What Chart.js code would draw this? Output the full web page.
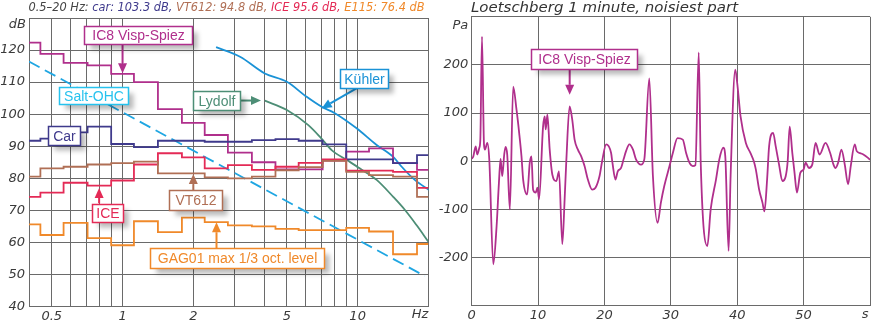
<!DOCTYPE html>
<html>
<head>
<meta charset="utf-8">
<script src="https://cdn.jsdelivr.net/npm/chart.js@4.4.1/dist/chart.umd.min.js"></script>
<style>
  html, body { margin: 0; padding: 0; background: #fff; }
  #wrap { position: relative; width: 872px; height: 321px; overflow: hidden; }
  #left { position: absolute; left: 0; top: 0; }
  #right { position: absolute; left: 428px; top: 0; }
</style>
</head>
<body>
<div id="wrap">
  <canvas id="left" width="440" height="321"></canvas>
  <canvas id="right" width="444" height="321"></canvas>
</div>
<script>
// 1/3 octave band centres (Hz) and levels (dB)
const bandHz   = [0.4, 0.5, 0.63, 0.8, 1, 1.25, 1.6, 2, 2.5, 3.15, 4, 5, 6.3, 8, 10, 12.5, 16, 20];
const ic8Db    = [122.3, 118.8, 116.0, 115.2, 112.6, 110.0, 101.6, 97.3, 93.5, 88.0, 85.0, 82.8, 82.8, 85.5, 88.3, 89.3, 84.7, 82.6];
const carDb    = [91.7, 92.4, 94.3, 96.1, 90.7, 89.7, 91.7, 91.7, 91.4, 91.4, 91.9, 92.2, 91.7, 90.6, 85.9, 85.9, 84.7, 87.2];
const vt612Db  = [80.5, 83.1, 83.6, 84.3, 84.7, 85.2, 81.5, 81.5, 80.3, 80.0, 80.5, 82.5, 83.5, 85.4, 82.0, 81.0, 80.5, 74.2];
const iceDb    = [74.2, 75.5, 78.6, 77.7, 79.3, 84.3, 87.8, 86.5, 83.1, 84.1, 82.6, 83.6, 84.8, 85.9, 82.4, 82.4, 82.0, 77.0];
const gag01Db  = [65.6, 62.3, 66.1, 61.3, 59.1, 66.6, 63.2, 67.7, 66.3, 65.3, 65.0, 64.2, 63.8, 63.8, 64.5, 63.4, 56.3, 59.5];

const saltHz   = [0.4, 19.3];
const saltDb   = [116.4, 49.5];
const kuehlerHz = [2.5, 3.16, 4.03, 5.0, 6.07, 7.03, 8.0, 9.9, 12.05, 14.17, 15.4, 17.5, 20.2];
const kuehlerDb = [120.9, 117.9, 112.7, 110.1, 105.4, 102.3, 100.3, 95.6, 90.4, 86.7, 83.6, 79.5, 76.3];
const lydolfHz = [4.03, 5.0, 6.17, 6.9, 7.75, 9.0, 10.2, 12.05, 14.17, 15.9, 17.8, 20.0];
const lydolfDb = [104.2, 101.3, 96.6, 93.0, 88.8, 85.7, 83.1, 79.5, 74.2, 70.1, 65.4, 60.2];

const freqGrid = [0.4, 0.5, 0.6, 0.7, 0.8, 0.9, 1, 2, 3, 4, 5, 6, 7, 8, 9, 10, 20];
const freqLabels = { 0.5: '0.5', 1: '1', 2: '2', 5: '5', 10: '10' };

// Loetschberg pressure trace (s, Pa)
const timeS = [0, 0.24, 0.6, 0.84, 1.15, 1.3, 1.55, 1.85, 2.0, 2.35, 2.65, 3.25, 3.75, 4.1, 4.35, 4.6, 4.9, 5.1, 5.35,
  5.75, 6.25, 6.75, 7.15, 7.5, 7.75, 8.35, 8.75, 9.0, 9.25, 9.65, 9.9, 10.15, 10.75, 11.0, 11.15, 11.4, 11.75,
  12.15, 12.75, 13.15, 13.65, 14.0, 14.25, 14.75, 15.15, 15.5, 16.0, 16.5, 17.0, 17.5, 18.15, 18.65, 19.25, 19.65,
  20.25, 21.0, 21.2, 21.65, 22.0, 22.5, 22.9, 23.25, 23.75, 24.3, 24.75, 25.5, 26.0, 26.75, 27.3, 28.0, 28.5, 29.0,
  29.8, 30.3, 31.0, 31.8, 32.3, 32.8, 33.3, 33.7, 34.2, 34.5, 35.5, 36.0, 36.8, 37.3, 37.9, 38.2, 38.7, 39.0, 39.7,
  40.0, 40.5, 41.3, 42.0, 42.5, 42.8, 43.3, 43.8, 44.1, 44.5, 44.8, 45.4, 45.8, 46.3, 46.8, 47.3, 47.6, 47.9, 48.3,
  48.6, 49.0, 49.5, 50.0, 50.3, 50.8, 51.3, 51.8, 52.4, 53.3, 54.0, 54.5, 54.8, 55.2, 55.7, 56.2, 56.7, 57.1, 57.7,
  58.0, 58.5, 59.0, 59.7, 60];
const pressurePa = [5, 10, 31, 14, 28, 45, 259, 35, 24, 38, 3, -214, -135, -45, 5, -31, 14, 30, 14,
  -100, 155, 107, 59, 10, -38, -69, -3, 10, -59, -65, -55, -79, 72, 93, 66, 97, 24,
  -28, -41, -21, -172, -79, 0, 114, 86, 45, 24, 10, -10, -38, -59, -55, -31, 0,
  35, 17, -3, -38, -21, -14, 5, 21, 35, 24, 4, -7, 4, 172, -31, -128, -86, -52,
  -10, 17, 48, 45, 17, -3, -10, -8, 226, -3, -176, -100, -38, 4, 28, 10, -186, -31, 190,
  162, 93, 38, 17, 0, -17, -59, -86, -104, -38, 31, 59, 31, -7, -41, -31, 0, 72, 17,
  -20, -65, -24, -17, -3, -14, -7, 38, 14, 38, 17, -7, -14, -3, 24, -7, -48, -10, 35,
  21, 17, 14, 7, 3];

const C = {
  ic8: '#b02f8c', salt: '#1fa6e2', saltLabel: '#26c2ee', car: '#3f3a8c', vt612: '#b06f55',
  ice: '#e42a56', gag: '#f0892a', kuehler: '#1a92d6', lydolf: '#4d8e76',
  grid: '#6a6a6a', text: '#3a3a3a'
};
const tickFont = { family: 'DejaVu Sans', style: 'italic', size: 13 };

const leftNotes = [
  { text: 'IC8 Visp-Spiez', color: C.ic8, at: [1.162, 124.7], w: 108, h: 18, arrow: [[1.0, 121.9], [1.0, 112.8]] },
  { text: 'Salt-OHC', color: C.saltLabel, at: [0.753, 105.8], w: 69, h: 17 },
  { text: 'Car', color: C.car, at: [0.565, 93.3], w: 32, h: 19 },
  { text: 'Lydolf', color: C.lydolf, at: [2.51, 104.25], w: 47, h: 19, arrow: [[3.16, 104.25], [3.88, 104.25]] },
  { text: 'Kühler', color: C.kuehler, at: [10.69, 111.0], w: 48, h: 19, arrow: [[9.93, 108.1], [7.03, 101.8]] },
  { text: 'ICE', color: C.ice, at: [0.866, 69.3], w: 31, h: 18, arrow: [[0.795, 72.2], [0.795, 77.0]] },
  { text: 'VT612', color: C.vt612, at: [2.04, 73.2], w: 53, h: 20, arrow: [[2.0, 76.3], [2.0, 81.3]] },
  { text: 'GAG01 max 1/3 oct. level', color: C.gag, at: [3.065, 55.0], w: 174, h: 20, arrow: [[2.51, 58.2], [2.51, 66.3]] }
];
const rightNotes = [
  { text: 'IC8 Visp-Spiez', color: C.ic8, at: [16.94, 212], w: 106, h: 20, arrow: [[14.76, 191], [14.76, 138]] }
];

function pairs(xs, ys) {
  return xs.map((x, i) => ({ x: x, y: ys[i] }));
}

function drawArrow(ctx, x1, y1, x2, y2, color) {
  const ang = Math.atan2(y2 - y1, x2 - x1);
  const len = 10, half = 4.5;
  const bx = x2 - Math.cos(ang) * len, by = y2 - Math.sin(ang) * len;
  ctx.save();
  ctx.strokeStyle = color;
  ctx.fillStyle = color;
  ctx.lineWidth = 2;
  ctx.beginPath();
  ctx.moveTo(x1, y1);
  ctx.lineTo(bx, by);
  ctx.stroke();
  ctx.beginPath();
  ctx.moveTo(x2, y2);
  ctx.lineTo(bx + Math.sin(ang) * half, by - Math.cos(ang) * half);
  ctx.lineTo(bx - Math.sin(ang) * half, by + Math.cos(ang) * half);
  ctx.closePath();
  ctx.fill();
  ctx.restore();
}

function drawBox(ctx, n, cx, cy) {
  const x = Math.round(cx - n.w / 2) + 0.5, y = Math.round(cy - n.h / 2) + 0.5;
  ctx.save();
  ctx.shadowColor = 'rgba(0,0,0,0.28)';
  ctx.shadowBlur = 5;
  ctx.shadowOffsetX = 5;
  ctx.shadowOffsetY = 5;
  ctx.fillStyle = '#fff';
  ctx.fillRect(x, y, n.w, n.h);
  ctx.restore();
  ctx.save();
  ctx.strokeStyle = n.color;
  ctx.lineWidth = 1.5;
  ctx.strokeRect(x, y, n.w, n.h);
  ctx.fillStyle = n.color;
  ctx.font = '14px "Liberation Sans", Arial, sans-serif';
  ctx.textAlign = 'center';
  ctx.textBaseline = 'middle';
  ctx.fillText(n.text, x + n.w / 2, y + n.h / 2 + 1);
  ctx.restore();
}

function notesPlugin(notes, extra) {
  return {
    id: 'notes',
    afterDatasetsDraw(chart) {
      const ctx = chart.ctx, xs = chart.scales.x, ys = chart.scales.y;
      notes.forEach(n => {
        if (n.arrow) {
          drawArrow(ctx,
            xs.getPixelForValue(n.arrow[0][0]), ys.getPixelForValue(n.arrow[0][1]),
            xs.getPixelForValue(n.arrow[1][0]), ys.getPixelForValue(n.arrow[1][1]), n.color);
        }
      });
      notes.forEach(n => {
        drawBox(ctx, n, xs.getPixelForValue(n.at[0]), ys.getPixelForValue(n.at[1]));
      });
    },
    afterDraw(chart) {
      if (extra) extra(chart);
    }
  };
}

function fitText(ctx, segments, x, y, width, font) {
  ctx.save();
  ctx.font = font;
  const total = segments.reduce((s, seg) => s + ctx.measureText(seg[0]).width, 0);
  ctx.translate(x, y);
  ctx.scale(width / total, 1);
  ctx.textBaseline = 'middle';
  ctx.textAlign = 'left';
  let px = 0;
  segments.forEach(seg => {
    ctx.fillStyle = seg[1];
    ctx.fillText(seg[0], px, 0);
    px += ctx.measureText(seg[0]).width;
  });
  ctx.restore();
}

function axisWord(ctx, text, x, y) {
  ctx.save();
  ctx.font = 'italic 13px "DejaVu Sans"';
  ctx.fillStyle = C.text;
  ctx.textAlign = 'right';
  ctx.textBaseline = 'middle';
  ctx.fillText(text, x, y);
  ctx.restore();
}

function stepSet(values, color) {
  return { data: pairs(bandHz, values), borderColor: color, borderWidth: 1.8, stepped: 'middle', pointRadius: 0 };
}

// ---- left: 1/3 octave spectra ----
new Chart(document.getElementById('left'), {
  type: 'line',
  data: {
    datasets: [
      stepSet(gag01Db, C.gag),
      stepSet(vt612Db, C.vt612),
      stepSet(iceDb, C.ice),
      stepSet(carDb, C.car),
      stepSet(ic8Db, C.ic8),
      { data: pairs(saltHz, saltDb), borderColor: C.salt, borderWidth: 1.8, borderDash: [12, 6], pointRadius: 0 },
      { data: pairs(lydolfHz, lydolfDb), borderColor: C.lydolf, borderWidth: 1.8, pointRadius: 0, cubicInterpolationMode: 'monotone' },
      { data: pairs(kuehlerHz, kuehlerDb), borderColor: C.kuehler, borderWidth: 1.8, pointRadius: 0, cubicInterpolationMode: 'monotone' }
    ]
  },
  options: {
    responsive: false,
    animation: false,
    events: [],
    layout: { autoPadding: false, padding: { left: 0, right: 11.6, top: 18, bottom: 0 } },
    plugins: { legend: { display: false }, tooltip: { enabled: false } },
    scales: {
      x: {
        type: 'logarithmic', min: 0.4, max: 20,
        afterBuildTicks: s => { s.ticks = freqGrid.map(v => ({ value: v })); },
        afterFit: s => { s.height = 14.5; },
        ticks: { autoSkip: false, maxRotation: 0, padding: 2, font: tickFont, color: C.text,
                 callback: v => freqLabels[v] || '' },
        grid: { color: C.grid, lineWidth: 1, drawTicks: false },
        border: { color: C.grid }
      },
      y: {
        min: 40, max: 130,
        afterFit: s => { s.width = 29; },
        ticks: { stepSize: 10, padding: 4, font: tickFont, color: C.text,
                 callback: v => (v === 130 ? '' : v) },
        grid: { color: C.grid, lineWidth: 1, drawTicks: false },
        border: { color: C.grid }
      }
    }
  },
  plugins: [notesPlugin(leftNotes, chart => {
    const ctx = chart.ctx, a = chart.chartArea;
    fitText(ctx, [
      ['0.5–20 Hz: ', '#444'],
      ['car: 103.3 dB, ', C.car],
      ['VT612: 94.8 dB, ', C.vt612],
      ['ICE 95.6 dB, ', C.ice],
      ['E115: 76.4 dB', C.gag]
    ], 28.5, 8, 396, 'italic 13px "DejaVu Sans"');
    axisWord(ctx, 'dB', a.left - 3, 25);
    axisWord(ctx, 'Hz', a.right, 315);
  })]
});

// ---- right: pressure trace ----
new Chart(document.getElementById('right'), {
  type: 'line',
  data: {
    datasets: [
      { data: pairs(timeS, pressurePa), borderColor: C.ic8, borderWidth: 1.8, pointRadius: 0, cubicInterpolationMode: 'monotone' }
    ]
  },
  options: {
    responsive: false,
    animation: false,
    events: [],
    layout: { autoPadding: false, padding: { left: 0, right: 0.7, top: 16.8, bottom: 0 } },
    plugins: { legend: { display: false }, tooltip: { enabled: false } },
    scales: {
      x: {
        type: 'linear', min: 0, max: 60,
        afterFit: s => { s.height = 15.3; },
        ticks: { stepSize: 10, autoSkip: false, maxRotation: 0, padding: 2, font: tickFont, color: C.text,
                 callback: v => (v === 60 ? '' : v) },
        grid: { color: C.grid, lineWidth: 1, drawTicks: false },
        border: { color: C.grid }
      },
      y: {
        min: -300, max: 300,
        afterFit: s => { s.width = 43.7; },
        ticks: { stepSize: 100, padding: 3.5, font: tickFont, color: C.text,
                 callback: v => (v === 300 || v === -300 ? '' : v) },
        grid: { color: C.grid, lineWidth: 1, drawTicks: false },
        border: { color: C.grid }
      }
    }
  },
  plugins: [notesPlugin(rightNotes, chart => {
    const ctx = chart.ctx, a = chart.chartArea;
    fitText(ctx, [['Loetschberg 1 minute, noisiest part', '#333']], 43, 8, 267, 'italic 14px "DejaVu Sans"');
    axisWord(ctx, 'Pa', a.left - 3.5, 26);
    axisWord(ctx, 's', a.right - 1.5, 315);
  })]
});
</script>
</body>
</html>
